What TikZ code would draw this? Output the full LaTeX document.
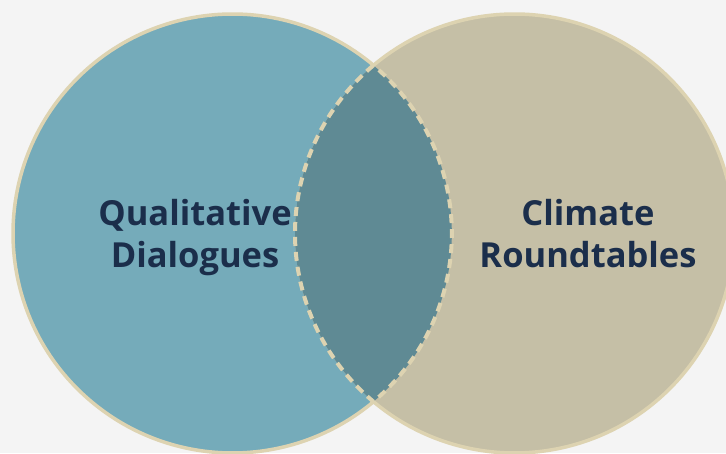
\documentclass[tikz,border=0pt]{standalone}
\usepackage{fontspec}
\setmainfont{Open Sans}
\usetikzlibrary{calc}
\definecolor{bgc}{HTML}{F4F4F4}
\definecolor{leftc}{HTML}{75ABBA}
\definecolor{rightc}{HTML}{C5BFA6}
\definecolor{lensc}{HTML}{5F8A94}
\definecolor{rimc}{HTML}{DDD3B1}
\definecolor{txtc}{HTML}{1B2E4B}
\tikzset{
  rim/.style={draw=rimc, line width=3.5pt},
  lensrim/.style={draw=rimc, line width=4pt, dash pattern=on 9pt off 6pt},
  lbl/.style={text=txtc, font=\bfseries\fontsize{34.5}{42}\selectfont, align=center}
}
\begin{document}
\begin{tikzpicture}[x=1pt,y=1pt]
\fill[bgc] (0,0) rectangle (726,453);
\useasboundingbox (0,0) rectangle (726,453);
\def\R{219.5}
\coordinate (lc) at (232.5,219.5);
\coordinate (rc) at (514.5,219.5);
\fill[leftc] (lc) circle[radius=\R];
\fill[rightc] (rc) circle[radius=\R];
% lens
\coordinate (top) at ($(rc)+(130:\R)$);
\fill[lensc] (top) arc[start angle=130, end angle=230, radius=\R] arc[start angle=-50, end angle=50, radius=\R] -- cycle;
% outer rims
\draw[rim] ($(lc)+(50:\R)$) arc[start angle=50, end angle=310, radius=\R];
\draw[rim] ($(rc)+(130:\R)$) arc[start angle=130, end angle=-130, radius=\R];
\draw[lensrim] (top) arc[start angle=130, end angle=230, radius=\R] arc[start angle=-50, end angle=50, radius=\R];
\node[lbl] (ql) at (195,215.5) {Qualitative\\Dialogues};
\node[lbl] (cr) at (588,215.5) {Climate\\Roundtables\vphantom{g}};
\end{tikzpicture}
\end{document}
